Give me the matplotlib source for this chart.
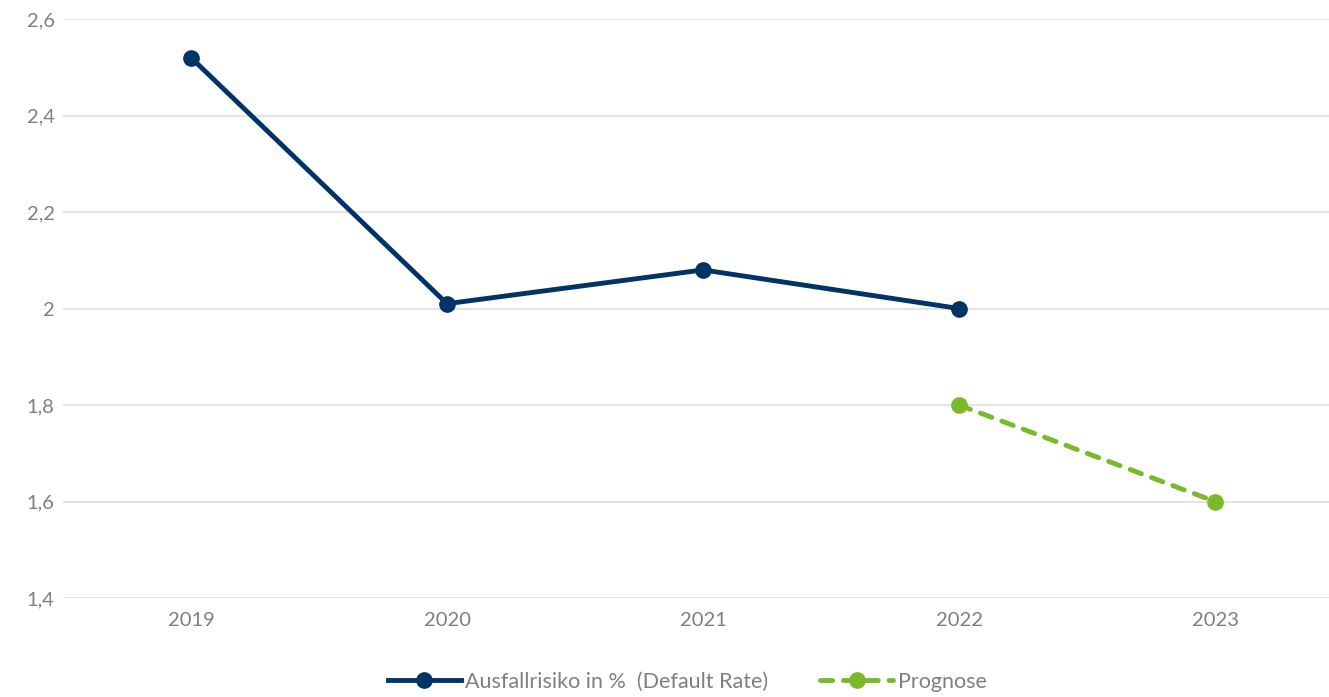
import matplotlib
matplotlib.use("Agg")
from matplotlib import pyplot as plt

years = ["2019", "2020", "2021", "2022", "2023"]
default_rate = [2.52, 2.01, 2.08, 2.00]
forecast_years = ["2022", "2023"]
forecast = [1.8, 1.6]
y_ticks = [1.4, 1.6, 1.8, 2.0, 2.2, 2.4, 2.6]
y_labels = ["1,4", "1,6", "1,8", "2", "2,2", "2,4", "2,6"]

plt.rcParams['font.family'] = ['Lato', 'DejaVu Sans']

fig = plt.figure(figsize=(13.29, 6.97), dpi=100)
ax = fig.add_axes([0.0474, 0.142, 0.9526, 0.8307])

pos = {y: i for i, y in enumerate(years)}
ax.plot([pos[y] for y in years[:len(default_rate)]], default_rate,
        color="#003366", lw=3.5, marker="o", ms=11,
        label="Ausfallrisiko in %  (Default Rate)", zorder=3)
ax.plot([pos[y] for y in forecast_years], forecast,
        color="#7ab929", lw=3.5, ls=(0, (2.5, 2.2)), marker="o", ms=11,
        dash_capstyle="round",
        label="Prognose", zorder=3)

ax.set_xlim(-0.5, 4.445)
ax.set_ylim(1.4, 2.6)
ax.set_xticks(range(len(years)))
ax.set_xticklabels(years)
ax.set_yticks(y_ticks)
ax.set_yticklabels(y_labels)
ax.yaxis.grid(True, color="#e0e0e0", lw=1.3)
ax.set_axisbelow(True)
for s in ax.spines.values():
    s.set_visible(False)
ax.tick_params(length=0, labelsize=14.5, colors="#7f7f7f", pad=10)
ax.tick_params(axis="y", pad=6)

leg = fig.legend(loc="lower center", bbox_to_anchor=(0.517, -0.02), ncol=2,
                 frameon=False, fontsize=15.5, handlelength=3.4,
                 columnspacing=2.4, handletextpad=0.2)
for t in leg.get_texts():
    t.set_color("#7f7f7f")

fig.savefig("out.png", dpi=100)
